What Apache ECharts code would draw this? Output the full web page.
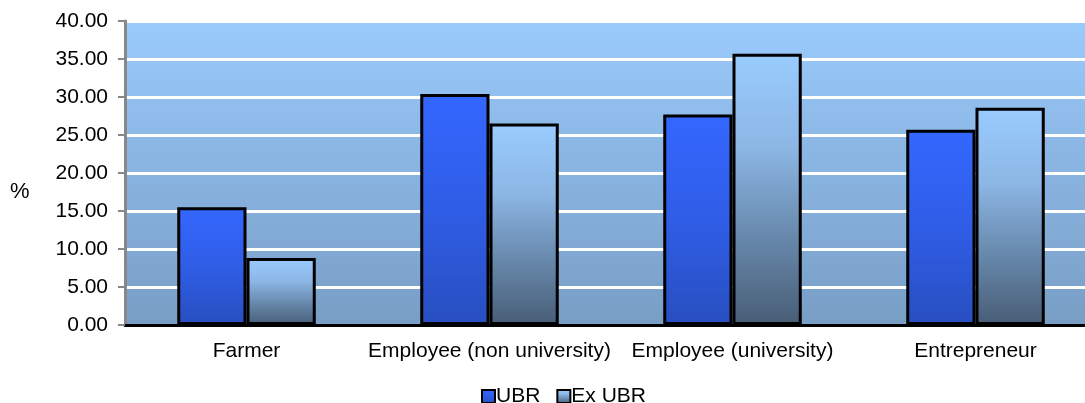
<!DOCTYPE html>
<html>
<head>
<meta charset="utf-8">
<script src="https://cdn.jsdelivr.net/npm/echarts@6/dist/echarts.min.js"></script>
<style>
  html, body { margin: 0; padding: 0; background: #ffffff; }
  #chart { width: 1085px; height: 403px; }
</style>
</head>
<body>
<div id="chart"></div>
<script>
// Occupational groups on the category axis
const categories = ['Farmer', 'Employee (non university)', 'Employee (university)', 'Entrepreneur'];
// Share (%) per group
const ubrValues = [15.5, 30.4, 27.7, 25.7];
const exUbrValues = [8.8, 26.5, 35.7, 28.6];
const seriesNames = ['UBR', 'Ex UBR'];

const FONT = '"Liberation Sans", Arial, sans-serif';
const grad = (stops) => new echarts.graphic.LinearGradient(0, 0, 0, 1,
  stops.map(([offset, color]) => ({ offset, color })));

const chart = echarts.init(document.getElementById('chart'), null, { renderer: 'canvas' });

chart.setOption({
  animation: false,
  backgroundColor: '#ffffff',
  grid: {
    left: 125, width: 972, top: 21, height: 304,
    outerBoundsMode: 'none',
    containLabel: false,
    show: true,
    borderWidth: 0,
    backgroundColor: grad([[0, '#9acbfd'], [0.5, '#89b3e0'], [1, '#789ec5']])
  },
  graphic: [{
    type: 'text',
    left: 10, top: 181,
    style: { text: '%', fontFamily: FONT, fontSize: 22, fill: '#000' }
  }],
  legend: {
    left: 476, top: 381,
    itemWidth: 13, itemHeight: 13, itemGap: 16,
    icon: 'rect',
    textStyle: { fontFamily: FONT, fontSize: 21, color: '#000', padding: [0, 0, 0, -4] },
    data: seriesNames
  },
  xAxis: {
    type: 'category',
    data: categories,
    axisLine: { lineStyle: { color: '#000', width: 3 } },
    axisTick: { show: false },
    axisLabel: { fontFamily: FONT, fontSize: 21, color: '#000', margin: 16, interval: 0 }
  },
  yAxis: {
    type: 'value',
    min: 0, max: 40, interval: 5,
    axisLine: { show: true, lineStyle: { color: '#888', width: 3 } },
    axisTick: { show: true, length: 7, lineStyle: { color: '#888', width: 2 } },
    axisLabel: {
      fontFamily: FONT, fontSize: 21, color: '#000', margin: 17,
      formatter: (v) => v.toFixed(2)
    },
    splitLine: { lineStyle: { color: '#ffffff', width: 3 } }
  },
  series: [
    {
      name: seriesNames[0],
      type: 'bar',
      data: ubrValues,
      barGap: '0%',
      barCategoryGap: '43%',
      itemStyle: {
        color: grad([[0, '#3467ff'], [0.5, '#2f5de6'], [1, '#284fc0']]),
        borderColor: '#000', borderWidth: 3
      }
    },
    {
      name: seriesNames[1],
      type: 'bar',
      data: exUbrValues,
      barGap: '0%',
      barCategoryGap: '43%',
      itemStyle: {
        color: grad([[0, '#99ccff'], [0.35, '#8cb6e4'], [0.65, '#6a8cb0'], [1, '#485d76']]),
        borderColor: '#000', borderWidth: 3
      }
    }
  ]
});
</script>
</body>
</html>
